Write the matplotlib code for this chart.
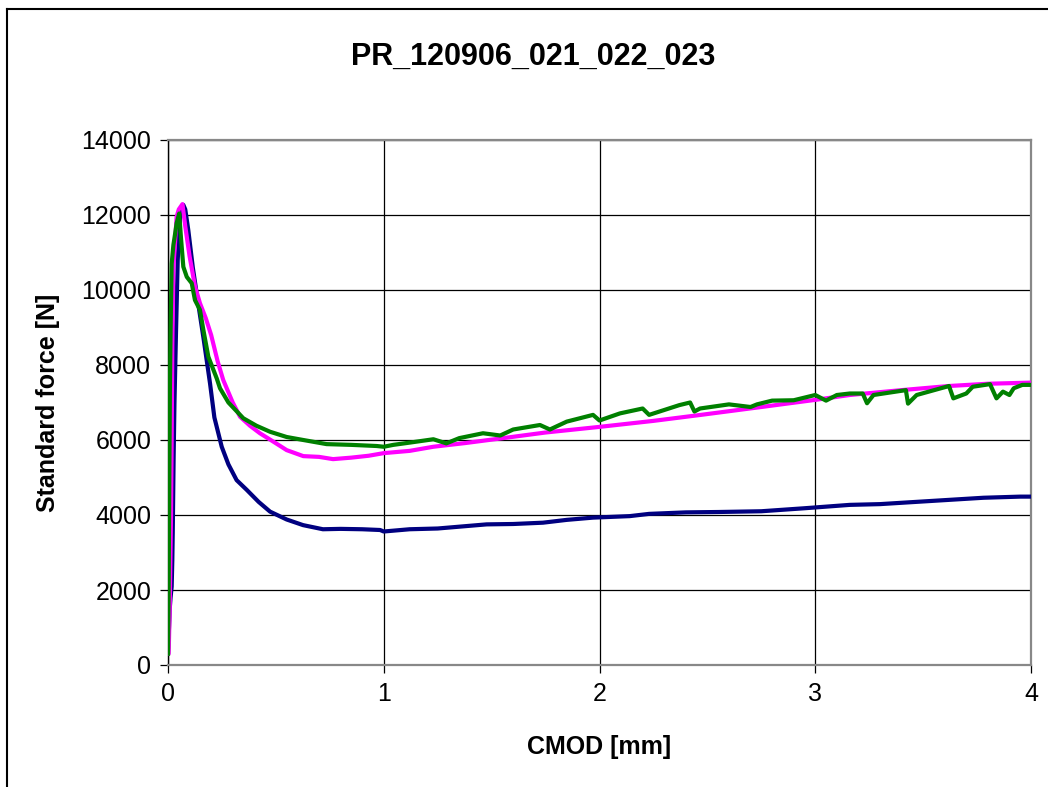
import matplotlib
matplotlib.use("Agg")
import matplotlib.pyplot as plt
from matplotlib.lines import Line2D

plt.rcParams["font.family"] = ["Liberation Sans", "DejaVu Sans"]

# ── data (CMOD [mm] vs standard force [N]) ─────────────────────────────────
cmod_021 = [0.0, 0.004, 0.008, 0.012, 0.017, 0.020, 0.022, 0.026, 0.030, 0.037,
            0.045, 0.055, 0.063, 0.071, 0.080, 0.094, 0.115, 0.141, 0.165, 0.195,
            0.215, 0.249, 0.28, 0.318, 0.365, 0.42, 0.473, 0.55, 0.626, 0.718,
            0.80, 0.90, 0.983, 1.0, 1.12, 1.25, 1.353, 1.477, 1.6, 1.738,
            1.848, 1.97, 2.14, 2.23, 2.40, 2.55, 2.75, 2.95, 3.16, 3.30,
            3.44, 3.61, 3.78, 3.95, 4.0]
force_021 = [300, 900, 1500, 1800, 2090, 2800, 3520, 5500, 7000, 8850,
             10800, 11900, 12200, 12270, 12150, 11600, 10600, 9600, 8700, 7500,
             6600, 5820, 5350, 4930, 4670, 4350, 4090, 3880, 3730, 3620,
             3630, 3620, 3600, 3560, 3620, 3640, 3690, 3750, 3760, 3795,
             3870, 3930, 3970, 4030, 4070, 4080, 4100, 4180, 4270, 4290,
             4340, 4400, 4460, 4490, 4490]

cmod_022 = [0.0, 0.003, 0.008, 0.014, 0.017, 0.020, 0.025, 0.032, 0.040, 0.050,
            0.067, 0.08, 0.10, 0.125, 0.148, 0.175, 0.20, 0.23, 0.256, 0.30,
            0.334, 0.38, 0.426, 0.49, 0.55, 0.627, 0.70, 0.765, 0.85, 0.93,
            1.0, 1.12, 1.23, 1.38, 1.54, 1.75, 2.0, 2.25, 2.47, 2.75,
            3.0, 3.16, 3.4, 3.62, 3.8, 4.0]
force_022 = [300, 300, 1500, 4000, 6000, 8500, 10600, 11200, 11950, 12150,
             12290, 11700, 10900, 10100, 9650, 9250, 8800, 8100, 7600, 7000,
             6620, 6380, 6180, 5950, 5730, 5570, 5550, 5490, 5530, 5580,
             5650, 5710, 5820, 5920, 6040, 6200, 6350, 6510, 6670, 6880,
             7070, 7200, 7330, 7440, 7500, 7530]

cmod_023 = [0.0, 0.003, 0.006, 0.009, 0.012, 0.017, 0.025, 0.033, 0.040, 0.052,
            0.060, 0.071, 0.087, 0.11, 0.125, 0.148, 0.165, 0.187, 0.226, 0.241,
            0.28, 0.349, 0.41, 0.473, 0.55, 0.627, 0.735, 0.85, 0.967, 1.0,
            1.044, 1.12, 1.23, 1.29, 1.35, 1.46, 1.54, 1.6, 1.724, 1.77,
            1.848, 1.97, 2.0, 2.095, 2.2, 2.23, 2.37, 2.42, 2.44, 2.466,
            2.6, 2.7, 2.73, 2.8, 2.9, 3.0, 3.05, 3.1, 3.16, 3.22,
            3.24, 3.27, 3.42, 3.43, 3.47, 3.62, 3.64, 3.70, 3.73, 3.81,
            3.84, 3.87, 3.9, 3.92, 3.96, 4.0]
force_023 = [300, 2000, 5000, 7500, 8930, 10700, 11200, 11500, 11780, 12040,
             11400, 10620, 10350, 10180, 9730, 9470, 8900, 8220, 7640, 7380,
             7000, 6580, 6380, 6220, 6080, 6000, 5890, 5870, 5840, 5820,
             5870, 5930, 6020, 5910, 6050, 6180, 6120, 6280, 6400, 6280,
             6490, 6670, 6520, 6710, 6840, 6670, 6930, 7000, 6760, 6840,
             6950, 6880, 6950, 7050, 7060, 7200, 7050, 7200, 7240, 7240,
             6980, 7200, 7330, 6970, 7200, 7440, 7110, 7240, 7420, 7490,
             7110, 7290, 7200, 7380, 7470, 7470]

x_ticks = [0, 1, 2, 3, 4]
y_ticks = [0, 2000, 4000, 6000, 8000, 10000, 12000, 14000]

# ── figure ────────────────────────────────────────────────────────────────
W, H = 1048, 787
fig = plt.figure(figsize=(W / 100, H / 100), dpi=100)
ax = fig.add_axes([168 / W, 1 - 665 / H, (1031 - 168) / W, (665 - 140) / H])

ax.plot(cmod_021, force_021, color="#000080", lw=3.0, zorder=3)
ax.plot(cmod_022, force_022, color="#FF00FF", lw=3.0, zorder=4)
ax.plot(cmod_023, force_023, color="#008000", lw=3.0, zorder=5)

ax.set_xlim(0, 4); ax.set_ylim(0, 14000)
ax.set_xticks(x_ticks); ax.set_yticks(y_ticks)
ax.grid(True, color="black", lw=0.9)
ax.set_axisbelow(True)
for s in ("top", "right", "bottom"):
    ax.spines[s].set_color("#888888"); ax.spines[s].set_linewidth(1.6)
ax.spines["left"].set_color("black"); ax.spines["left"].set_linewidth(1.0)
ax.tick_params(direction="out", length=6, width=0.9, color="black", labelsize=18, pad=6)

ax.set_xlabel("CMOD [mm]", fontsize=18, fontweight="bold")
ax.set_ylabel("Standard force [N]", fontsize=18, fontweight="bold")
ax.xaxis.set_label_coords(0.5, -(747 - 665) / (665 - 140), transform=ax.transAxes)
ax.yaxis.set_label_coords(-(168 - 48) / (1031 - 168), 0.5, transform=ax.transAxes)
ax.xaxis.label.set_va("center"); ax.yaxis.label.set_va("center")

fig.text(533 / W, 1 - 57 / H, "PR_120906_021_022_023", ha="center", va="center",
         fontsize=22, fontweight="bold")

# outer frame (only left and top edges are visible in the reference)
fig.add_artist(Line2D([7 / W, 7 / W], [0, 1 - 9 / H], transform=fig.transFigure, color="black", lw=1.5))
fig.add_artist(Line2D([7 / W, 1], [1 - 9 / H, 1 - 9 / H], transform=fig.transFigure, color="black", lw=1.5))

fig.savefig("out.png", dpi=100)
